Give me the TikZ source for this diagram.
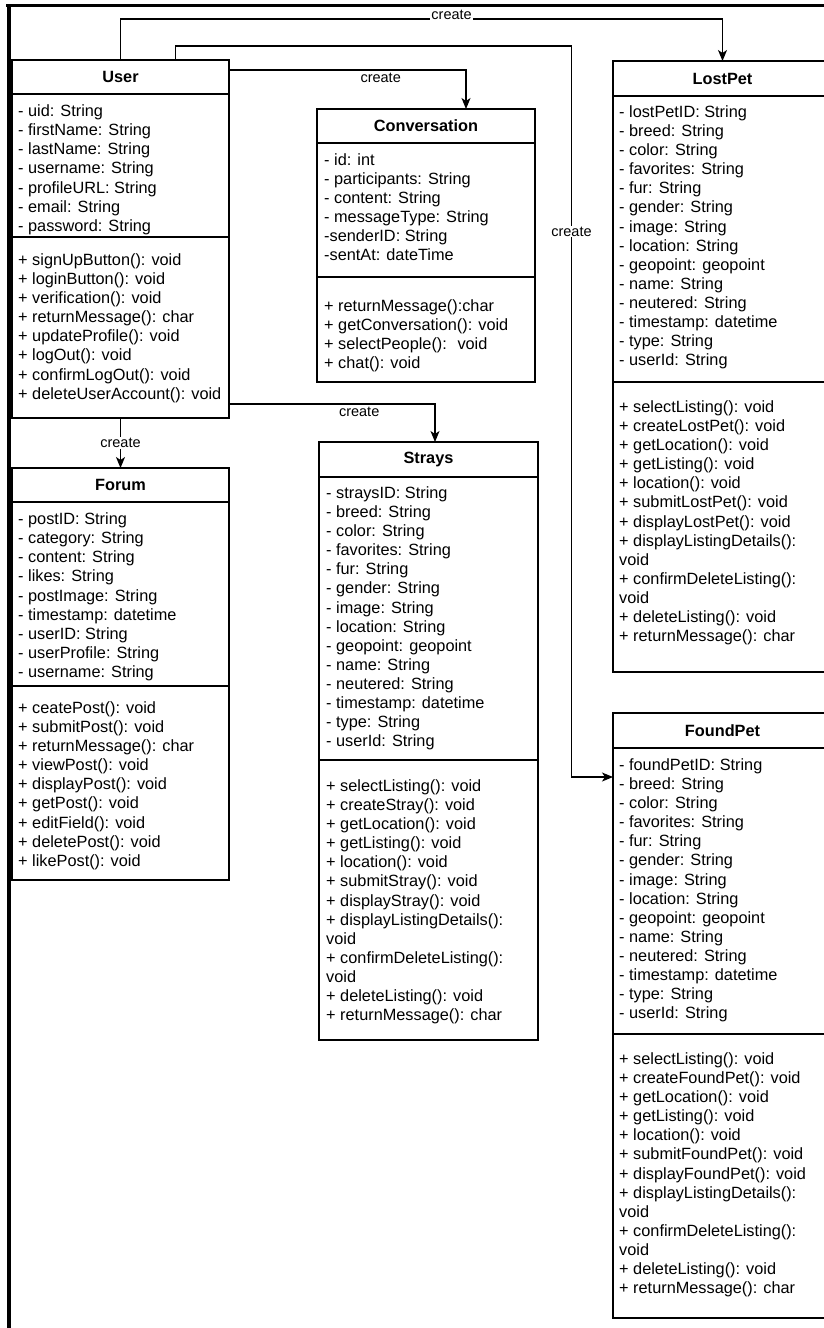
\documentclass[tikz,border=0pt]{standalone}
\usepackage{fontspec}
\setmainfont{Liberation Sans}
\usepackage{xcolor}
\usetikzlibrary{positioning,arrows.meta}

\tikzset{
  classhead/.style={draw, line width=1.2pt, anchor=north west, inner sep=0pt, outer sep=0pt, font=\fontsize{16.3}{19.1}\selectfont\bfseries},
  classpart/.style={draw, line width=1.2pt, anchor=north west, inner sep=0pt, outer sep=0pt},
  members/.style={anchor=north west, inner sep=0pt, align=left, font=\fontsize{16.3}{19.1}\selectfont, execute at begin node=\strut},
  link/.style={line width=1.2pt, -{Stealth[length=11pt,width=9pt,inset=3pt]}},
  linklabel/.style={fill=white, inner sep=1pt, font=\fontsize{14.5}{16}\selectfont},
}

\begin{document}
\begin{tikzpicture}[x=1pt, y=-1pt]
\useasboundingbox (0,0) rectangle (824,1328);
\clip (0,0) rectangle (824,1328);

\draw[line width=3pt] (6,5.3) -- (824,5.3);
\draw[line width=4pt] (9,4) -- (9,1328);

\node[classhead, minimum width=217pt, minimum height=34pt] (userhead) at (12,60) {User};
\node[classpart, minimum width=217pt, minimum height=143pt] (userattr) at (userhead.south west) {};
\node[classpart, minimum width=217pt, minimum height=181pt] (usermeth) at (userattr.south west) {};
\node[members] (userattrtxt) at ([shift={(6,10.6)}]userattr.north west) {- uid: String\\- firstName: String\\- lastName: String\\- username: String\\- profileURL: String\\- email: String\\- password: String};
\node[members] (usermethtxt) at ([shift={(6,16.4)}]usermeth.north west) {+ signUpButton(): void\\+ loginButton(): void\\+ verification(): void\\+ returnMessage(): char\\+ updateProfile(): void\\+ logOut(): void\\+ confirmLogOut(): void\\+ deleteUserAccount(): void};

\node[classhead, minimum width=217pt, minimum height=34pt] (forumhead) at (12,468) {Forum};
\node[classpart, minimum width=217pt, minimum height=184pt] (forumattr) at (forumhead.south west) {};
\node[classpart, minimum width=217pt, minimum height=194pt] (forummeth) at (forumattr.south west) {};
\node[members] (forumattrtxt) at ([shift={(6,10.6)}]forumattr.north west) {- postID: String\\- category: String\\- content: String\\- likes: String\\- postImage: String\\- timestamp: datetime\\- userID: String\\- userProfile: String\\- username: String};
\node[members] (forummethtxt) at ([shift={(6,15.4)}]forummeth.north west) {+ ceatePost(): void\\+ submitPost(): void\\+ returnMessage(): char\\+ viewPost(): void\\+ displayPost(): void\\+ getPost(): void\\+ editField(): void\\+ deletePost(): void\\+ likePost(): void};

\node[classhead, minimum width=218pt, minimum height=34pt] (convhead) at (317,109) {Conversation};
\node[classpart, minimum width=218pt, minimum height=134pt] (convattr) at (convhead.south west) {};
\node[classpart, minimum width=218pt, minimum height=105pt] (convmeth) at (convattr.south west) {};
\node[members] (convattrtxt) at ([shift={(7,10.4)}]convattr.north west) {- id: int\\- participants: String\\- content: String\\- messageType: String\\-senderID: String\\-sentAt: dateTime};
\node[members] (convmethtxt) at ([shift={(7,22)}]convmeth.north west) {+ returnMessage():char\\+ getConversation(): void\\+ selectPeople(): \ void\\+ chat(): void};

\node[classhead, minimum width=219pt, minimum height=35pt] (strayshead) at (319,442) {Strays};
\node[classpart, minimum width=219pt, minimum height=283pt] (straysattr) at (strayshead.south west) {};
\node[classpart, minimum width=219pt, minimum height=280pt] (straysmeth) at (straysattr.south west) {};
\node[members] (straysattrtxt) at ([shift={(7,9.4)}]straysattr.north west) {- straysID: String\\- breed: String\\- color: String\\- favorites: String\\- fur: String\\- gender: String\\- image: String\\- location: String\\- geopoint: geopoint\\- name: String\\- neutered: String\\- timestamp: datetime\\- type: String\\- userId: String};
\node[members] (straysmethtxt) at ([shift={(7,19.4)}]straysmeth.north west) {+ selectListing(): void\\+ createStray(): void\\+ getLocation(): void\\+ getListing(): void\\+ location(): void\\+ submitStray(): void\\+ displayStray(): void\\+ displayListingDetails():\\void\\+ confirmDeleteListing():\\void\\+ deleteListing(): void\\+ returnMessage(): char};

\node[classhead, minimum width=219pt, minimum height=35pt] (lostpethead) at (613,61) {LostPet};
\node[classpart, minimum width=219pt, minimum height=286pt] (lostpetattr) at (lostpethead.south west) {};
\node[classpart, minimum width=219pt, minimum height=290pt] (lostpetmeth) at (lostpetattr.south west) {};
\node[members] (lostpetattrtxt) at ([shift={(6,9.4)}]lostpetattr.north west) {- lostPetID: String\\- breed: String\\- color: String\\- favorites: String\\- fur: String\\- gender: String\\- image: String\\- location: String\\- geopoint: geopoint\\- name: String\\- neutered: String\\- timestamp: datetime\\- type: String\\- userId: String};
\node[members] (lostpetmethtxt) at ([shift={(6,18.4)}]lostpetmeth.north west) {+ selectListing(): void\\+ createLostPet(): void\\+ getLocation(): void\\+ getListing(): void\\+ location(): void\\+ submitLostPet(): void\\+ displayLostPet(): void\\+ displayListingDetails():\\void\\+ confirmDeleteListing():\\void\\+ deleteListing(): void\\+ returnMessage(): char};

\node[classhead, minimum width=219pt, minimum height=35pt] (foundpethead) at (613,713) {FoundPet};
\node[classpart, minimum width=219pt, minimum height=286pt] (foundpetattr) at (foundpethead.south west) {};
\node[classpart, minimum width=219pt, minimum height=284pt] (foundpetmeth) at (foundpetattr.south west) {};
\node[members] (foundpetattrtxt) at ([shift={(6,10.4)}]foundpetattr.north west) {- foundPetID: String\\- breed: String\\- color: String\\- favorites: String\\- fur: String\\- gender: String\\- image: String\\- location: String\\- geopoint: geopoint\\- name: String\\- neutered: String\\- timestamp: datetime\\- type: String\\- userId: String};
\node[members] (foundpetmethtxt) at ([shift={(6,18.4)}]foundpetmeth.north west) {+ selectListing(): void\\+ createFoundPet(): void\\+ getLocation(): void\\+ getListing(): void\\+ location(): void\\+ submitFoundPet(): void\\+ displayFoundPet(): void\\+ displayListingDetails():\\void\\+ confirmDeleteListing():\\void\\+ deleteListing(): void\\+ returnMessage(): char};

\draw[link] (userhead.north) |- ([yshift=42pt]lostpethead.north)
    node[linklabel, pos=0.775, yshift=4pt] {create} -- (lostpethead.north);
\draw[link] ([xshift=55pt]userhead.north) -- ++(0,-14) -- ++(396,0) |- ([yshift=-29pt]foundpetattr.north west)
    node[linklabel, pos=0.127] {create};
\draw[link] ([yshift=7pt]userhead.east) -| ([xshift=40pt]convhead.north)
    node[linklabel, pos=0.32, yshift=-8pt] {create};
\draw[link] ([yshift=14pt]usermeth.south east) -| ([xshift=6.5pt]strayshead.north)
    node[linklabel, pos=0.316, yshift=-8pt] {create};
\draw[link] (usermeth.south) -- (forumhead.north)
    node[linklabel, midway] {create};

\end{tikzpicture}
\end{document}
